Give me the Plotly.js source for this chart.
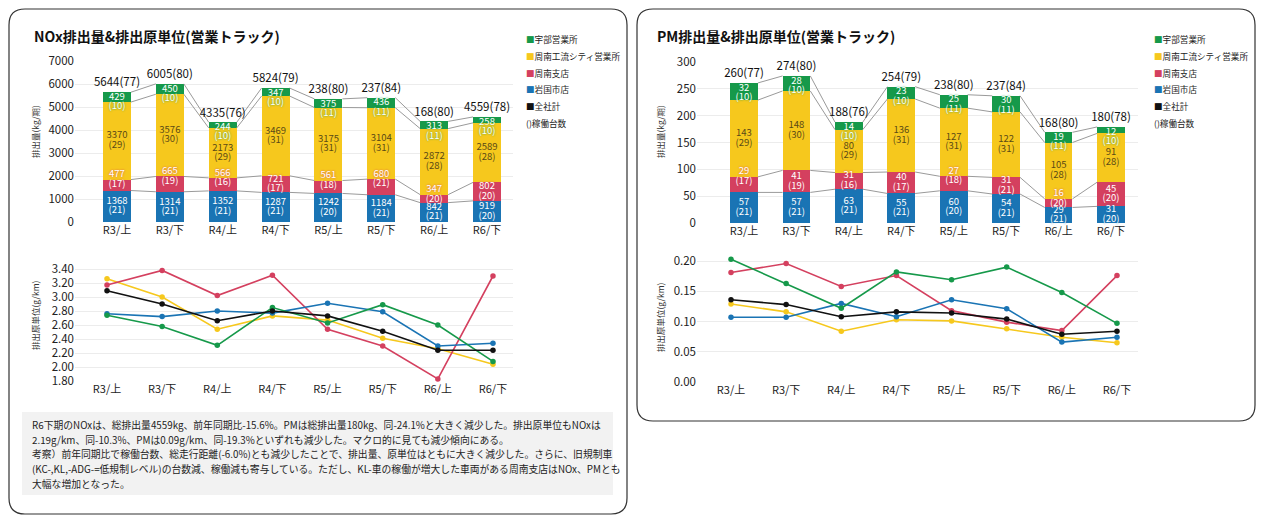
<!DOCTYPE html>
<html>
<head>
<meta charset="utf-8">
<script src="https://cdn.plot.ly/plotly-3.0.1.min.js"></script>
<style>
html, body { margin: 0; padding: 0; background: #fff; }
#chart { width: 1263px; height: 523px; }
</style>
</head>
<body>
<div id="chart"></div>
<script>
// 区分
const categories = ['R3/上', 'R3/下', 'R4/上', 'R4/下', 'R5/上', 'R5/下', 'R6/上', 'R6/下'];

// 事業所名・色 (積み上げ順: 下から)
const officeNames = ['岩国市店', '周南支店', '周南工流シティ営業所', '宇部営業所'];
const officeColors = ['#1a74b4', '#d4405f', '#f6c81d', '#16994a'];
const totalName = '全社計';
const totalColor = '#111111';

// NOx 排出量 (kg/期)
const noxIwakuni = [1368, 1314, 1352, 1287, 1242, 1184, 842, 919];
const noxShunan = [477, 665, 566, 721, 561, 680, 347, 802];
const noxCity = [3370, 3576, 2173, 3469, 3175, 3104, 2872, 2589];
const noxUbe = [429, 450, 244, 347, 375, 436, 313, 258];
const noxTotalLabels = ['5644(77)', '6005(80)', '4335(76)', '5824(79)', '238(80)', '237(84)', '168(80)', '4559(78)'];

// 稼働台数
const unitsIwakuni = [21, 21, 21, 21, 20, 21, 21, 20];
const unitsShunan = [17, 19, 16, 17, 18, 21, 20, 20];
const unitsCity = [29, 30, 29, 31, 31, 31, 28, 28];
const unitsUbe = [10, 10, 10, 10, 11, 11, 11, 10];

// NOx 排出原単位 (g/km)
const noxRateIwakuni = [2.76, 2.72, 2.80, 2.77, 2.91, 2.79, 2.30, 2.34];
const noxRateShunan = [3.17, 3.38, 3.02, 3.31, 2.54, 2.30, 1.83, 3.30];
const noxRateCity = [3.26, 3.00, 2.54, 2.73, 2.67, 2.41, 2.26, 2.04];
const noxRateUbe = [2.74, 2.58, 2.31, 2.85, 2.63, 2.89, 2.60, 2.08];
const noxRateTotal = [3.09, 2.90, 2.66, 2.80, 2.73, 2.51, 2.24, 2.24];

// PM 排出量 (kg/期)
const pmIwakuni = [57, 57, 63, 55, 60, 54, 29, 31];
const pmShunan = [29, 41, 31, 40, 27, 31, 16, 45];
const pmCity = [143, 148, 80, 136, 127, 122, 105, 91];
const pmUbe = [32, 28, 14, 23, 25, 30, 19, 12];
const pmTotalLabels = ['260(77)', '274(80)', '188(76)', '254(79)', '238(80)', '237(84)', '168(80)', '180(78)'];

// PM 排出原単位 (g/km)
const pmRateIwakuni = [0.107, 0.107, 0.130, 0.108, 0.136, 0.121, 0.066, 0.074];
const pmRateShunan = [0.181, 0.196, 0.158, 0.176, 0.118, 0.099, 0.085, 0.176];
const pmRateCity = [0.129, 0.116, 0.084, 0.103, 0.101, 0.088, 0.074, 0.065];
const pmRateUbe = [0.203, 0.163, 0.122, 0.182, 0.169, 0.190, 0.148, 0.097];
const pmRateTotal = [0.136, 0.128, 0.108, 0.116, 0.114, 0.104, 0.079, 0.084];

// コメント
const commentLines = [
    'R6下期のNOxは、総排出量4559kg、前年同期比-15.6%。PMは総排出量180kg、同-24.1%と大きく減少した。排出原単位もNOxは',
    '2.19g/km、同-10.3%、PMは0.09g/km、同-19.3%といずれも減少した。マクロ的に見ても減少傾向にある。',
    '考察）前年同期比で稼働台数、総走行距離(-6.0%)とも減少したことで、排出量、原単位はともに大きく減少した。さらに、旧規制車',
    '(KC-,KL,-ADG-=低規制レベル)の台数減、稼働減も寄与している。ただし、KL-車の稼働が増大した車両がある周南支店はNOx、PMとも',
    '大幅な増加となった。'
];

const W = 1263, H = 523;
const px = x => x / W;
const py = y => 1 - y / H;
const FONT = '"Noto Sans CJK JP", "Noto Sans", sans-serif';
const BAR_W = 0.53;
const LABEL_SIZE = 9.5;
const idx = categories.map((c, i) => i);

// 積み上げ棒 + 系列線 + 値ラベル + 合計ラベル
function stackTraces(series, units, totalLabels, xa, ya, pxPerUnit) {
    const bars = [], lines = [], labels = [];
    const textColors = ['#ffffff', '#ffffff', '#5a4a16', '#ffffff'];
    const cum = [];
    let run = idx.map(() => 0);
    series.forEach((vals, s) => {
        const below = run.slice();
        run = run.map((r, i) => r + vals[i]);
        const top = run.slice();
        cum.push(top);
        bars.push({
            type: 'bar', x: idx, y: vals, xaxis: xa, yaxis: ya,
            width: BAR_W, marker: { color: officeColors[s], line: { width: 0 } },
            showlegend: false, hoverinfo: 'skip'
        });
        // 小さい区分はラベル位置をずらす
        const anchor = idx.map(i => {
            const mid = (below[i] + top[i]) / 2;
            const hPx = vals[i] * pxPerUnit;
            if (s === 3) return Math.min(mid, top[i] - 10 / pxPerUnit);
            if (s === 1 && hPx < 16) return top[i];
            return mid;
        });
        const font = {
            size: LABEL_SIZE, color: textColors[s], family: FONT,
            shadow: s === 2 ? 'none' : '0px 0px 2px ' + officeColors[s]
        };
        labels.push({
            type: 'scatter', mode: 'text', x: idx, y: anchor, xaxis: xa, yaxis: ya,
            text: vals.map(String), textposition: 'top center', textfont: font,
            cliponaxis: false, showlegend: false, hoverinfo: 'skip'
        });
        labels.push({
            type: 'scatter', mode: 'text', x: idx, y: anchor, xaxis: xa, yaxis: ya,
            text: units[s].map(n => '(' + n + ')'), textposition: 'bottom center', textfont: font,
            cliponaxis: false, showlegend: false, hoverinfo: 'skip'
        });
    });
    // 系列線
    cum.forEach(level => {
        const lx = [], ly = [];
        for (let i = 0; i < idx.length - 1; i++) {
            lx.push(i + BAR_W / 2, i + 1 - BAR_W / 2, null);
            ly.push(level[i], level[i + 1], null);
        }
        lines.push({
            type: 'scatter', mode: 'lines', x: lx, y: ly, xaxis: xa, yaxis: ya,
            line: { color: '#9a9a9a', width: 1 }, showlegend: false, hoverinfo: 'skip'
        });
    });
    labels.push({
        type: 'scatter', mode: 'markers+text', x: idx, y: cum[cum.length - 1], xaxis: xa, yaxis: ya,
        text: totalLabels, textposition: 'top center',
        marker: { size: 3, opacity: 0 },
        textfont: { size: 11.5, color: '#111', family: FONT },
        cliponaxis: false, showlegend: false, hoverinfo: 'skip'
    });
    return bars.concat(lines, labels);
}

function rateTraces(series, xa, ya) {
    const order = [2, 1, 0, 3, 4];
    const colors = officeColors.concat([totalColor]);
    return order.map(s => ({
        type: 'scatter', mode: 'lines+markers', x: idx, y: series[s], xaxis: xa, yaxis: ya,
        line: { color: colors[s], width: 1.6 },
        marker: { color: colors[s], size: 5.5 },
        cliponaxis: false, showlegend: false, hoverinfo: 'skip'
    }));
}

const data = [].concat(
    stackTraces([noxIwakuni, noxShunan, noxCity, noxUbe],
        [unitsIwakuni, unitsShunan, unitsCity, unitsUbe], noxTotalLabels, 'x', 'y', (222 - 61) / 7000),
    rateTraces([noxRateIwakuni, noxRateShunan, noxRateCity, noxRateUbe, noxRateTotal], 'x2', 'y2'),
    stackTraces([pmIwakuni, pmShunan, pmCity, pmUbe],
        [unitsIwakuni, unitsShunan, unitsCity, unitsUbe], pmTotalLabels, 'x3', 'y3', (223 - 62) / 300),
    rateTraces([pmRateIwakuni, pmRateShunan, pmRateCity, pmRateUbe, pmRateTotal], 'x4', 'y4')
);

function xAxis(l, r, first, step, anchor) {
    return {
        domain: [px(l), px(r)],
        range: [(l - first) / step, (r - first) / step],
        tickvals: idx, ticktext: categories, ticks: '',
        showgrid: false, zeroline: false, showline: false,
        tickfont: { size: 11, color: '#222', family: FONT },
        anchor: anchor, fixedrange: true
    };
}

function yAxis(bottom, top, range, tickvals, fmt, anchor) {
    return {
        domain: [py(bottom), py(top)], range: range, tickvals: tickvals,
        tickformat: fmt, ticks: '', gridcolor: '#ececec', gridwidth: 1,
        zeroline: false, showline: false,
        tickfont: { size: 11.5, color: '#222', family: FONT },
        anchor: anchor, fixedrange: true
    };
}

const noxRateTicks = [1.8, 2.0, 2.2, 2.4, 2.6, 2.8, 3.0, 3.2, 3.4];

// 枠 (角丸)
function roundRect(x0, y0, x1, y1, r) {
    const rx = r / W, ry = r / H;
    const L = px(x0), R = px(x1), T = py(y0), B = py(y1);
    return 'M' + (L + rx) + ',' + T + ' L' + (R - rx) + ',' + T +
        ' Q' + R + ',' + T + ' ' + R + ',' + (T - ry) +
        ' L' + R + ',' + (B + ry) + ' Q' + R + ',' + B + ' ' + (R - rx) + ',' + B +
        ' L' + (L + rx) + ',' + B + ' Q' + L + ',' + B + ' ' + L + ',' + (B + ry) +
        ' L' + L + ',' + (T - ry) + ' Q' + L + ',' + T + ' ' + (L + rx) + ',' + T + ' Z';
}

const shapes = [
    { type: 'path', xref: 'paper', yref: 'paper', path: roundRect(9, 9, 627, 514, 16),
      line: { color: '#333', width: 1.2 } },
    { type: 'path', xref: 'paper', yref: 'paper', path: roundRect(637, 9, 1255, 421, 16),
      line: { color: '#333', width: 1.2 } },
    { type: 'rect', xref: 'paper', yref: 'paper', x0: px(22), x1: px(613), y0: py(495), y1: py(412),
      fillcolor: '#f2f2f2', line: { width: 0 }, layer: 'below' }
];

const annotations = [];
function ann(x, y, text, opts) {
    annotations.push(Object.assign({
        xref: 'paper', yref: 'paper', x: px(x), y: py(y), text: text,
        showarrow: false, xanchor: 'left', yanchor: 'middle',
        font: { size: 10, color: '#222', family: FONT }
    }, opts || {}));
}

// タイトル
const titleFont = { size: 14, color: '#111', family: FONT };
ann(32, 36, '<b>NOx排出量&amp;排出原単位(営業トラック)</b>', { font: titleFont });
ann(655, 36, '<b>PM排出量&amp;排出原単位(営業トラック)</b>', { font: titleFont });

// 軸タイトル
const axTitleFont = { size: 8.5, color: '#333', family: FONT };
ann(35, 132, '排出量(kg/期)', { xanchor: 'center', textangle: -90, font: axTitleFont });
ann(35, 315, '排出原単位(g/km)', { xanchor: 'center', textangle: -90, font: axTitleFont });
ann(660, 132, '排出量(kg/期)', { xanchor: 'center', textangle: -90, font: axTitleFont });
ann(660, 317, '排出原単位(g/km)', { xanchor: 'center', textangle: -90, font: axTitleFont });

// 凡例
const legendNames = [officeNames[3], officeNames[2], officeNames[1], officeNames[0], totalName];
const legendColors = [officeColors[3], officeColors[2], officeColors[1], officeColors[0], totalColor];
const legendFont = { size: 8.6, color: '#222', family: FONT };
[524, 1152].forEach(lx => {
    legendNames.forEach((n, i) => {
        ann(lx, 39 + i * 16.8, '<span style="color:' + legendColors[i] + '">■</span>' + n, { font: legendFont });
    });
    ann(lx, 39 + 5 * 16.8, '()稼働台数', { font: legendFont });
});

// コメント
commentLines.forEach((t, i) => {
    ann(30, 425 + i * 14.7, t, { font: { size: 9.8, color: '#222', family: FONT } });
});

const layout = {
    width: W, height: H,
    margin: { l: 0, r: 0, t: 0, b: 0 },
    paper_bgcolor: '#fff', plot_bgcolor: 'rgba(0,0,0,0)',
    barmode: 'stack', bargap: 0,
    showlegend: false,
    font: { family: FONT, color: '#222' },
    xaxis: xAxis(75, 513, 117, 52.86, 'y'),
    yaxis: yAxis(222, 61, [0, 7000], [0, 1000, 2000, 3000, 4000, 5000, 6000, 7000], 'd', 'x'),
    xaxis2: xAxis(75, 513, 107, 55.14, 'y2'),
    yaxis2: yAxis(381, 255, [1.8, 3.6], noxRateTicks, '.2f', 'x2'),
    xaxis3: xAxis(697, 1138, 744, 52.43, 'y3'),
    yaxis3: yAxis(223, 62, [0, 300], [0, 50, 100, 150, 200, 250, 300], 'd', 'x3'),
    xaxis4: xAxis(697, 1138, 731, 55.14, 'y4'),
    yaxis4: yAxis(382, 255, [0, 0.21], [0, 0.05, 0.10, 0.15, 0.20], '.2f', 'x4'),
    shapes: shapes,
    annotations: annotations
};

Plotly.newPlot('chart', data, layout, { displayModeBar: false, staticPlot: true });
</script>
</body>
</html>
